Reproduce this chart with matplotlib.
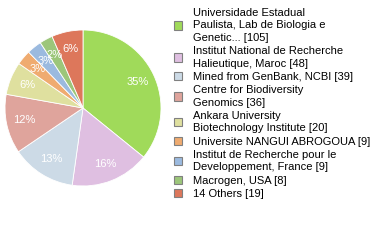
import matplotlib
matplotlib.use("Agg")
import matplotlib.pyplot as plt
from matplotlib.patches import Patch

labels = [
    "Universidade Estadual\nPaulista, Lab de Biologia e\nGenetic... [105]",
    "Institut National de Recherche\nHalieutique, Maroc [48]",
    "Mined from GenBank, NCBI [39]",
    "Centre for Biodiversity\nGenomics [36]",
    "Ankara University\nBiotechnology Institute [20]",
    "Universite NANGUI ABROGOUA [9]",
    "Institut de Recherche pour le\nDeveloppement, France [9]",
    "Macrogen, USA [8]",
    "14 Others [19]",
]
values = [105, 48, 39, 36, 20, 9, 9, 8, 19]
colors = ["#a0da5a", "#dfbfe1", "#ccdae6", "#dfa49c", "#dfe09f",
          "#efab70", "#9bbadf", "#9cc67a", "#dd775b"]

W, H = 380, 240
fig = plt.figure(figsize=(W / 100, H / 100), dpi=100)
cx, cy, r = 83, 108, 78
ax = fig.add_axes([(cx - r) / W, (H - cy - r) / H, 2 * r / W, 2 * r / H])

wedges, texts, autotexts = ax.pie(
    values, colors=colors, startangle=90, counterclock=False,
    autopct=lambda p: f"{int(p)}%", pctdistance=0.77,
    wedgeprops=dict(edgecolor="white", linewidth=0.6),
    textprops=dict(color="white", fontsize=8, family="Liberation Sans"),
)
ax.set_xlim(-1, 1)
ax.set_ylim(-1, 1)
ax.set_aspect("equal")
ax.axis("off")

handles = [Patch(facecolor=c, edgecolor="#808080", linewidth=0.8) for c in colors]
leg = fig.legend(handles, labels, loc="upper left", bbox_to_anchor=(174 / W, 1 - 8 / H),
                 frameon=False, prop=dict(family="Liberation Sans", size=8),
                 handlelength=0.75, handleheight=0.75, handletextpad=1.0,
                 labelspacing=0.3, borderpad=0, borderaxespad=0)
for t in leg.get_texts():
    t.set_linespacing(1.3)

fig.savefig("out.png", dpi=100)
